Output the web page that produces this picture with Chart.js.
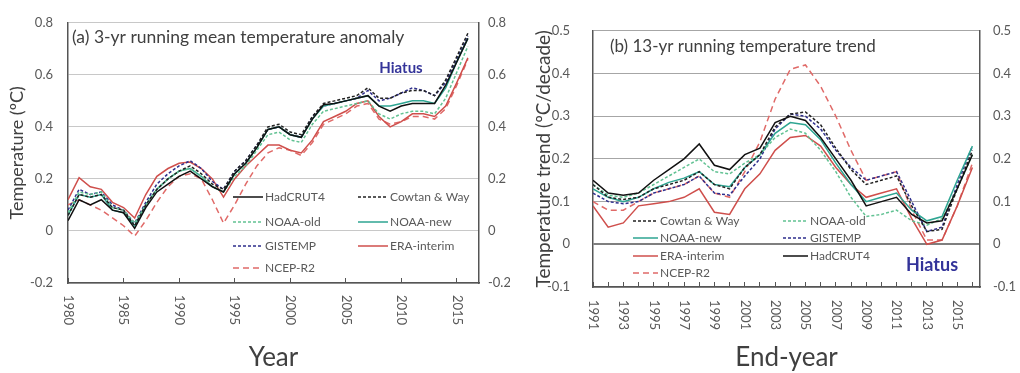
<!DOCTYPE html>
<html>
<head>
<meta charset="utf-8">
<script src="https://cdn.jsdelivr.net/npm/chart.js@4.4.0/dist/chart.umd.min.js"></script>
<style>
    html, body { margin: 0; padding: 0; background: #fff; }
    #wrap { position: relative; width: 1020px; height: 373px; }
    .panel { position: absolute; top: 0; width: 510px; height: 373px; }
</style>
</head>
<body>
<div id="wrap">
    <div class="panel" style="left:0"><canvas id="chartA" width="510" height="373"></canvas></div>
    <div class="panel" style="left:510px"><canvas id="chartB" width="510" height="373"></canvas></div>
</div>
<script>
// Series names / styles (same order in both panels)
const seriesNames = ["HadCRUT4", "Cowtan & Way", "NOAA-old", "NOAA-new", "GISTEMP", "ERA-interim", "NCEP-R2"];
const seriesColors = ["#111111", "#222222", "#62c293", "#2ea592", "#2e2e8c", "#cf4f4c", "#e06a68"];
const seriesDash = [[], [3, 2], [3, 2], [], [3, 2], [], [6, 4]];

// (a) 3-yr running mean temperature anomaly
const yearsA = [1980, 1981, 1982, 1983, 1984, 1985, 1986, 1987, 1988, 1989,
    1990, 1991, 1992, 1993, 1994, 1995, 1996, 1997, 1998, 1999,
    2000, 2001, 2002, 2003, 2004, 2005, 2006, 2007, 2008, 2009,
    2010, 2011, 2012, 2013, 2014, 2015, 2016];
const hadA = [0.04, 0.12, 0.10, 0.12, 0.08, 0.07, 0.01, 0.09, 0.15, 0.18, 0.21, 0.23, 0.20, 0.17, 0.15, 0.22, 0.26, 0.32, 0.39, 0.40, 0.37, 0.36, 0.43, 0.485, 0.49, 0.50, 0.51, 0.52, 0.48, 0.46, 0.48, 0.49, 0.49, 0.49, 0.56, 0.65, 0.74];
const cowA = [0.06, 0.14, 0.13, 0.14, 0.09, 0.08, 0.02, 0.10, 0.16, 0.20, 0.23, 0.25, 0.22, 0.18, 0.16, 0.23, 0.27, 0.33, 0.40, 0.41, 0.38, 0.37, 0.44, 0.49, 0.50, 0.51, 0.52, 0.55, 0.51, 0.51, 0.53, 0.54, 0.54, 0.52, 0.58, 0.67, 0.76];
const noaaOldA = [0.07, 0.15, 0.14, 0.15, 0.09, 0.08, 0.03, 0.10, 0.16, 0.20, 0.23, 0.24, 0.21, 0.17, 0.15, 0.21, 0.25, 0.31, 0.37, 0.38, 0.35, 0.34, 0.41, 0.46, 0.47, 0.48, 0.49, 0.50, 0.45, 0.43, 0.45, 0.46, 0.46, 0.45, 0.51, 0.61, 0.71];
const noaaNewA = [0.06, 0.14, 0.13, 0.14, 0.08, 0.07, 0.02, 0.10, 0.16, 0.20, 0.23, 0.24, 0.21, 0.17, 0.15, 0.22, 0.26, 0.32, 0.39, 0.40, 0.37, 0.36, 0.43, 0.48, 0.49, 0.50, 0.51, 0.52, 0.48, 0.48, 0.49, 0.50, 0.50, 0.49, 0.55, 0.65, 0.74];
const gisA = [0.08, 0.16, 0.14, 0.15, 0.10, 0.08, 0.03, 0.11, 0.18, 0.22, 0.25, 0.27, 0.24, 0.19, 0.16, 0.23, 0.27, 0.33, 0.39, 0.40, 0.37, 0.36, 0.44, 0.48, 0.49, 0.50, 0.51, 0.54, 0.50, 0.51, 0.53, 0.55, 0.54, 0.52, 0.57, 0.66, 0.75];
const eraA = [0.12, 0.205, 0.17, 0.16, 0.11, 0.09, 0.05, 0.14, 0.21, 0.24, 0.26, 0.265, 0.24, 0.20, 0.13, 0.20, 0.25, 0.29, 0.33, 0.33, 0.31, 0.30, 0.35, 0.42, 0.44, 0.46, 0.49, 0.50, 0.44, 0.40, 0.42, 0.45, 0.45, 0.44, 0.48, 0.57, 0.665];
const ncepA = [0.10, 0.12, 0.10, 0.08, 0.05, 0.02, -0.02, 0.04, 0.11, 0.17, 0.21, 0.22, 0.20, 0.12, 0.03, 0.10, 0.18, 0.25, 0.30, 0.32, 0.31, 0.29, 0.34, 0.41, 0.43, 0.45, 0.48, 0.49, 0.43, 0.41, 0.42, 0.44, 0.44, 0.43, 0.47, 0.56, 0.66];

// (b) 13-yr running temperature trend, by end-year
const yearsB = [1991, 1992, 1993, 1994, 1995, 1996, 1997, 1998, 1999, 2000,
    2001, 2002, 2003, 2004, 2005, 2006, 2007, 2008, 2009, 2010,
    2011, 2012, 2013, 2014, 2015, 2016];
const hadB = [0.15, 0.12, 0.115, 0.12, 0.15, 0.175, 0.20, 0.235, 0.185, 0.175, 0.21, 0.225, 0.285, 0.30, 0.29, 0.25, 0.20, 0.15, 0.09, 0.10, 0.11, 0.07, 0.05, 0.055, 0.13, 0.21];
const cowB = [0.14, 0.11, 0.105, 0.11, 0.13, 0.14, 0.15, 0.17, 0.14, 0.13, 0.18, 0.21, 0.275, 0.305, 0.31, 0.28, 0.225, 0.175, 0.14, 0.15, 0.16, 0.09, 0.03, 0.035, 0.13, 0.22];
const noaaOldB = [0.14, 0.115, 0.11, 0.12, 0.14, 0.16, 0.18, 0.20, 0.17, 0.165, 0.19, 0.21, 0.25, 0.27, 0.26, 0.22, 0.17, 0.11, 0.065, 0.07, 0.08, 0.055, 0.045, 0.06, 0.13, 0.21];
const noaaNewB = [0.13, 0.11, 0.10, 0.11, 0.13, 0.145, 0.155, 0.17, 0.14, 0.135, 0.18, 0.21, 0.26, 0.285, 0.28, 0.245, 0.19, 0.14, 0.10, 0.11, 0.12, 0.08, 0.055, 0.065, 0.15, 0.23];
const gisB = [0.12, 0.10, 0.095, 0.10, 0.12, 0.13, 0.14, 0.16, 0.12, 0.115, 0.16, 0.20, 0.27, 0.305, 0.30, 0.27, 0.22, 0.18, 0.15, 0.16, 0.17, 0.10, 0.03, 0.04, 0.14, 0.23];
const eraB = [0.09, 0.04, 0.05, 0.09, 0.095, 0.10, 0.11, 0.13, 0.075, 0.07, 0.13, 0.165, 0.22, 0.25, 0.255, 0.23, 0.18, 0.14, 0.11, 0.12, 0.13, 0.06, 0.0, 0.01, 0.09, 0.18];
const ncepB = [0.10, 0.08, 0.08, 0.10, 0.12, 0.13, 0.14, 0.16, 0.12, 0.11, 0.17, 0.24, 0.34, 0.41, 0.42, 0.37, 0.30, 0.22, 0.15, 0.16, 0.17, 0.08, 0.01, 0.01, 0.09, 0.19];

const FONT = "Lato, 'Open Sans', sans-serif";
const TEXT_GREY = "#595959";
const AXIS_DARK = "#555555";

function makeDatasets(years, valueLists) {
    return valueLists.map((vals, i) => ({
        label: seriesNames[i],
        data: years.map((yr, j) => ({ x: yr, y: vals[j] })),
        borderColor: seriesColors[i],
        borderDash: seriesDash[i],
        borderWidth: 1.5,
        pointRadius: 0,
        tension: 0,
        fill: false
    }));
}

function fmtTick(v) {
    return Math.abs(v) < 1e-9 ? "0" : v.toFixed(1);
}

// Draws rotated year labels, panel title, "Hiatus" note and the 2-column legend
const panelDecor = {
    id: "panelDecor",
    afterDraw(chart, args, opts) {
        const ctx = chart.ctx;
        const xs = chart.scales.x;
        const area = chart.chartArea;
        ctx.save();

        // year labels, reading top to bottom
        ctx.fillStyle = TEXT_GREY;
        ctx.font = `${opts.tickSize}px ${FONT}`;
        ctx.textAlign = "left";
        ctx.textBaseline = "middle";
        xs.ticks.forEach(t => {
            if ((t.value - xs.min) % opts.labelEvery !== 0) return;
            ctx.save();
            ctx.translate(xs.getPixelForValue(t.value), area.bottom + opts.labelGap);
            ctx.rotate(Math.PI / 2);
            ctx.fillText(String(t.value), 0, 0);
            ctx.restore();
        });

        // panel title
        ctx.fillStyle = "#404040";
        ctx.font = `${opts.titleSize}px ${FONT}`;
        ctx.fillText(opts.title, opts.titleX, opts.titleY);

        // Hiatus
        ctx.fillStyle = "#333399";
        ctx.font = `bold ${opts.hiatusSize}px ${FONT}`;
        ctx.textAlign = "center";
        ctx.fillText("Hiatus", opts.hiatusX, opts.hiatusY);

        // legend
        ctx.textAlign = "left";
        ctx.font = `${opts.legendSize}px ${FONT}`;
        opts.legend.forEach(([name, x, y]) => {
            const ds = chart.data.datasets.find(d => d.label === name);
            ctx.strokeStyle = ds.borderColor;
            ctx.lineWidth = ds.borderWidth;
            ctx.setLineDash(ds.borderDash);
            ctx.beginPath();
            ctx.moveTo(x, y);
            ctx.lineTo(x + opts.legendLine, y);
            ctx.stroke();
            ctx.setLineDash([]);
            ctx.fillStyle = TEXT_GREY;
            ctx.fillText(name, x + opts.legendLine + 2, y);
        });
        ctx.restore();
    }
};

function yTicks(step, pad) {
    return { stepSize: step, padding: pad, color: TEXT_GREY, font: { family: FONT, size: 13 }, callback: fmtTick };
}

// Panel (a)
new Chart(document.getElementById("chartA"), {
    type: "line",
    data: { datasets: makeDatasets(yearsA, [hadA, cowA, noaaOldA, noaaNewA, gisA, eraA, ncepA]) },
    options: {
        responsive: false,
        animation: false,
        layout: { padding: { top: 16, left: 0, right: 0, bottom: 0 } },
        plugins: {
            legend: { display: false },
            tooltip: { enabled: false },
            panelDecor: {
                tickSize: 13, labelEvery: 5, labelGap: 12,
                title: "(a) 3-yr running mean temperature anomaly", titleSize: 17.5, titleX: 72, titleY: 37,
                hiatusSize: 15, hiatusX: 401, hiatusY: 68,
                legendSize: 12, legendLine: 30,
                legend: [
                    ["HadCRUT4", 233, 197], ["Cowtan & Way", 358, 197],
                    ["NOAA-old", 233, 222], ["NOAA-new", 358, 222],
                    ["GISTEMP", 233, 246], ["ERA-interim", 358, 246],
                    ["NCEP-R2", 233, 268]
                ]
            }
        },
        scales: {
            x: {
                type: "linear", min: 1980, max: 2017,
                afterFit: s => { s.height = 90; },
                ticks: { display: false, stepSize: 5, includeBounds: false },
                grid: { drawOnChartArea: false, drawTicks: true, tickLength: -5, color: AXIS_DARK },
                border: { display: true, color: AXIS_DARK, width: 1.5 },
                title: { display: true, text: "Year", color: "#404040", font: { family: FONT, size: 26 }, padding: { top: 0, bottom: 0 } }
            },
            y: {
                min: -0.2, max: 0.8,
                afterFit: s => { s.width = 68; },
                ticks: yTicks(0.2, 15),
                grid: { color: "#c8c8c8", drawTicks: false },
                border: { display: true, color: AXIS_DARK, width: 1.5 },
                title: { display: true, text: "Temperature (ºC)", color: "#404040", font: { family: FONT, size: 18 }, padding: { top: 6, bottom: 0 } }
            },
            y2: {
                position: "right", min: -0.2, max: 0.8,
                afterFit: s => { s.width = 31; },
                ticks: yTicks(0.2, 9),
                grid: { display: false, drawTicks: false },
                border: { display: true, color: AXIS_DARK, width: 1.5 }
            }
        }
    },
    plugins: [panelDecor]
});

// Panel (b)
new Chart(document.getElementById("chartB"), {
    type: "line",
    data: { datasets: makeDatasets(yearsB, [hadB, cowB, noaaOldB, noaaNewB, gisB, eraB, ncepB]) },
    options: {
        responsive: false,
        animation: false,
        layout: { padding: { top: 18, left: 0, right: 0, bottom: 0 } },
        plugins: {
            legend: { display: false },
            tooltip: { enabled: false },
            panelDecor: {
                tickSize: 13, labelEvery: 2, labelGap: 13,
                title: "(b) 13-yr running temperature trend", titleSize: 17, titleX: 100, titleY: 47,
                hiatusSize: 18, hiatusX: 422, hiatusY: 265,
                legendSize: 12, legendLine: 25,
                legend: [
                    ["Cowtan & Way", 123, 221], ["NOAA-old", 273, 221],
                    ["NOAA-new", 123, 238], ["GISTEMP", 273, 238],
                    ["ERA-interim", 123, 256], ["HadCRUT4", 273, 256],
                    ["NCEP-R2", 123, 273]
                ]
            }
        },
        scales: {
            x: {
                type: "linear", min: 1991, max: 2016.5,
                afterFit: s => { s.height = 86; },
                ticks: { display: false, stepSize: 1, includeBounds: false },
                grid: { drawOnChartArea: false, drawTicks: true, tickLength: -5, color: AXIS_DARK },
                border: { display: true, color: AXIS_DARK, width: 1.5 },
                title: { display: true, text: "End-year", color: "#404040", font: { family: FONT, size: 26 }, padding: { top: 0, bottom: 0 } }
            },
            y: {
                min: -0.1, max: 0.5,
                afterFit: s => { s.width = 83; },
                ticks: yTicks(0.1, 23),
                grid: {
                    color: ctx => Math.abs(ctx.tick.value) < 1e-9 ? "#7f7f7f" : "#a6a6a6",
                    lineWidth: ctx => Math.abs(ctx.tick.value) < 1e-9 ? 2 : 1,
                    drawTicks: false
                },
                border: { display: true, color: AXIS_DARK, width: 1.5 },
                title: { display: true, text: "Temperature trend (ºC/decade)", color: "#404040", font: { family: FONT, size: 19 }, padding: { top: 22, bottom: 0 } }
            },
            y2: {
                position: "right", min: -0.1, max: 0.5,
                afterFit: s => { s.width = 40; },
                ticks: yTicks(0.1, 13),
                grid: { display: false, drawTicks: false },
                border: { display: true, color: AXIS_DARK, width: 1.5 }
            }
        }
    },
    plugins: [panelDecor]
});
</script>
</body>
</html>
